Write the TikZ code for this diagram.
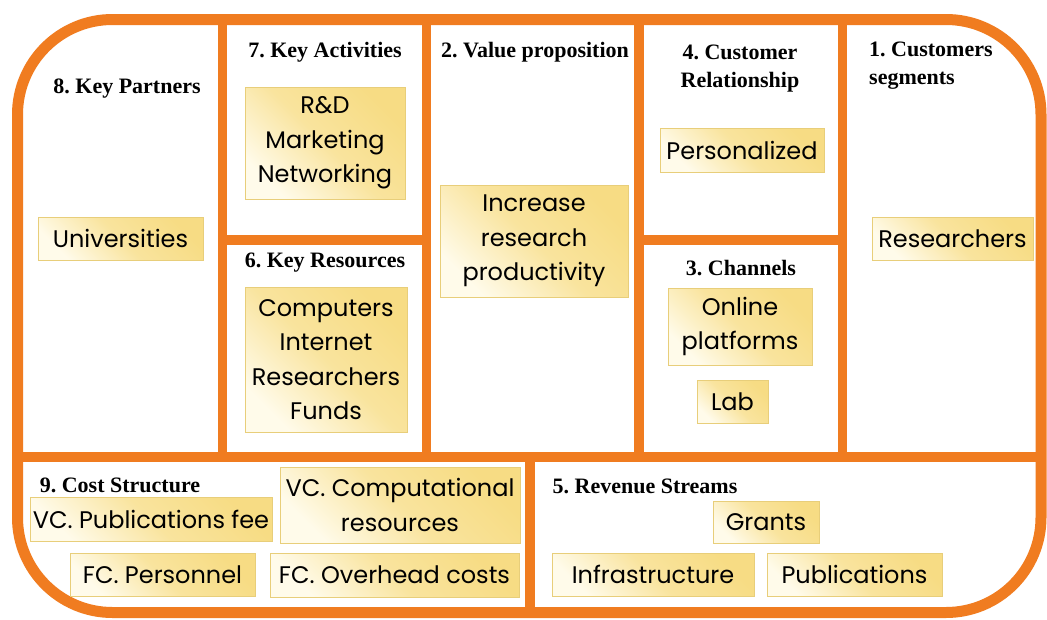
\documentclass[tikz,border=0pt]{standalone}
\usepackage{fontspec}
\setmainfont{Liberation Serif}
\newfontfamily\notefont{Poppins}
\definecolor{canvasOrange}{RGB}{240,124,32}
\definecolor{noteGold}{RGB}{247,220,132}
\definecolor{noteLight}{RGB}{255,251,234}
\definecolor{noteEdge}{RGB}{232,206,122}
\tikzset{
  frame/.style={draw=canvasOrange, line width=11pt},
  divider/.style={draw=canvasOrange, line width=9.5pt},
  heading/.style={font=\frenchspacing\bfseries\fontsize{22}{28}\selectfont, inner sep=0pt, align=center},
  note/.style={draw=noteEdge, line width=0.8pt,
    top color=noteGold, bottom color=noteLight, middle color=noteGold!75!noteLight,
    shading angle=-45, inner sep=0pt, align=center,
    font=\notefont\fontsize{24}{34.5}\selectfont},
}
\begin{document}
\begin{tikzpicture}[x=1pt,y=-1pt]
\useasboundingbox (0,0) rectangle (1047,619);
\fill[white] (0,0) rectangle (1047,619);

% canvas grid
\draw[divider] (222.5,19) -- (222.5,457);
\draw[divider] (426.5,19) -- (426.5,457);
\draw[divider] (639,19) -- (639,457);
\draw[divider] (842.5,19) -- (842.5,457);
\draw[divider] (222.5,240) -- (426.5,240);
\draw[divider] (639,240) -- (842.5,240);
\draw[divider] (17.5,457) -- (1041,457);
\draw[divider] (530,457) -- (530,612.5);
\draw[frame, rounded corners=95pt] (17.5,19.5) rectangle (1041,612.5);

% block titles
\node[heading] (kpT) at (127,88.5) {8. Key Partners};
\node[heading] (kaT) at (325,52.5) {7. Key Activities};
\node[heading] (vpT) at (535,52.5) {2. Value proposition};
\node[heading] (crT) at (740,68.5) {4. Customer\\Relationship};
\node[heading, anchor=west, align=left] (csT) at (869,65.5) {1. Customers\\segments};
\node[heading] (krT) at (325,262.5) {6. Key Resources};
\node[heading] (chT) at (741,268.5) {3. Channels};
\node[heading] (cstT) at (120,485.5) {9. Cost Structure};
\node[heading] (rsT) at (645,486.5) {5. Revenue Streams};

% sticky notes
\node[note, minimum width=165pt, minimum height=43pt] (univ) at (120.5,238.5) {Universities};
\node[note, minimum width=160pt, minimum height=112pt] (acts) at (325,143) {R\&D\\Marketing\\Networking};
\node[note, minimum width=162pt, minimum height=145pt] (ress) at (326,359.5) {Computers\\Internet\\Researchers\\Funds};
\node[note, minimum width=188pt, minimum height=112pt] (prod) at (534,241) {Increase\\research\\productivity};
\node[note, minimum width=164pt, minimum height=44pt] (pers) at (742,150) {Personalized};
\node[note, minimum width=161pt, minimum height=43pt] (resr) at (952.5,238.5) {Researchers};
\node[note, minimum width=144pt, minimum height=77pt] (online) at (740,326.5) {Online\\platforms};
\node[note, minimum width=71pt, minimum height=43pt] (lab) at (732.5,401.5) {Lab};
\node[note, minimum width=242pt, minimum height=44pt] (vcpub) at (151,519) {VC. Publications fee};
\node[note, minimum width=240pt, minimum height=76pt] (vccomp) at (400,505) {VC. Computational\\resources};
\node[note, minimum width=185pt, minimum height=43pt] (fcpers) at (162.5,574.5) {FC. Personnel};
\node[note, minimum width=249pt, minimum height=44pt] (fcover) at (394.5,575) {FC. Overhead costs};
\node[note, minimum width=106pt, minimum height=42pt] (grants) at (766,522) {Grants};
\node[note, minimum width=202pt, minimum height=43pt] (infra) at (653,574.5) {Infrastructure};
\node[note, minimum width=175pt, minimum height=43pt] (pubs) at (854.5,574.5) {Publications};
\end{tikzpicture}
\end{document}
